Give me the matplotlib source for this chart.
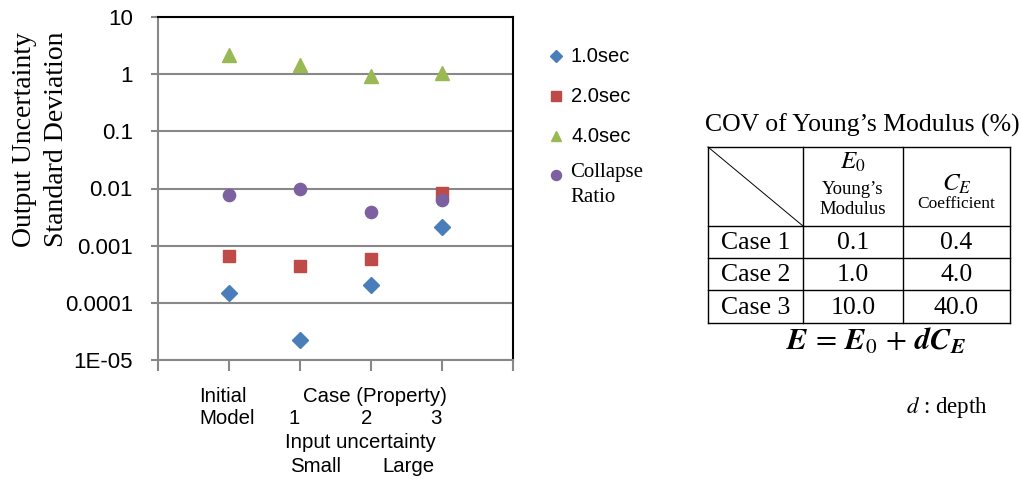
import matplotlib
matplotlib.use("Agg")
import matplotlib.pyplot as plt
import numpy as np

# ---- data ----
categories = [1, 2, 3, 4]
sec1 = [1.5e-4, 2.2e-5, 2.05e-4, 2.1e-3]
sec2 = [6.6e-4, 4.4e-4, 5.8e-4, 8.3e-3]
sec4 = [2.2, 1.45, 0.93, 1.05]
collapse = [7.7e-3, 9.8e-3, 3.9e-3, 6.3e-3]
series_names = ["1.0sec", "2.0sec", "4.0sec", "Collapse\nRatio"]
ytick_vals = [1e-5, 1e-4, 1e-3, 1e-2, 1e-1, 1, 10]
ytick_labels = ["1E-05", "0.0001", "0.001", "0.01", "0.1", "1", "10"]

table_title = "COV of Young\u2019s Modulus (%)"
row_labels = ["Case 1", "Case 2", "Case 3"]
e0_vals = ["0.1", "1.0", "10.0"]
ce_vals = ["0.4", "4.0", "40.0"]

W, H = 1022, 480
fig = plt.figure(figsize=(W / 100, H / 100), dpi=100)
ax = fig.add_axes([158 / W, 1 - 360 / H, (513 - 158) / W, (360 - 17) / H])

colors = ["#4A7EBB", "#BE4B48", "#98B954", "#7D60A0"]
markers = ["D", "s", "^", "o"]
sizes = [8.0, 8.5, 9.5, 8.8]
for vals, c, m, ms in zip([sec1, sec2, sec4, collapse], colors, markers, sizes):
    ax.plot(categories, vals, linestyle="none", marker=m, color=c,
            markersize=ms, markeredgecolor=c, zorder=3, clip_on=False)

ax.set_yscale("log")
ax.set_ylim(1e-5, 10)
ax.set_xlim(0, 5)
ax.set_yticks(ytick_vals)
ax.set_yticklabels(ytick_labels, fontfamily="Liberation Sans", fontsize=16)
ax.yaxis.set_minor_locator(matplotlib.ticker.NullLocator())
ax.set_xticks([0, 1, 2, 3, 4, 5])
ax.set_xticklabels([])
ax.tick_params(axis="x", direction="out", length=8, width=1.5, color="#888888")
ax.tick_params(axis="y", direction="out", length=5, width=1.5, color="#888888", pad=13)
ax.grid(axis="y", color="#888888", linewidth=1.5, zorder=0)
ax.set_axisbelow(True)
ax.spines["left"].set_color("#888888")
ax.spines["left"].set_linewidth(1.5)
ax.spines["bottom"].set_color("#888888")
ax.spines["bottom"].set_linewidth(1.5)
ax.spines["top"].set_color("black")
ax.spines["top"].set_linewidth(1.5)
ax.spines["right"].set_color("black")
ax.spines["right"].set_linewidth(1.5)

# overlay axes in pixel coordinates for annotations
ov = fig.add_axes([0, 0, 1, 1], facecolor="none")
ov.set_xlim(0, W)
ov.set_ylim(H, 0)
ov.axis("off")

serif = "Liberation Serif"
sans = "Liberation Sans"

# y label
ov.text(25, 140, "Output Uncertainty", rotation=90, ha="center", va="center",
        fontfamily=serif, fontsize=20)
ov.text(57, 139, "Standard Deviation", rotation=90, ha="center", va="center",
        fontfamily=serif, fontsize=20)

# x annotations
fs = 14.7
ov.text(199, 396, "Initial", ha="left", va="center", fontfamily=sans, fontsize=fs)
ov.text(199, 419, "Model", ha="left", va="center", fontfamily=sans, fontsize=fs)
ov.text(375, 396, "Case (Property)", ha="center", va="center", fontfamily=sans, fontsize=fs)
for xp, lab in zip([294, 367, 436], ["1", "2", "3"]):
    ov.text(xp, 419, lab, ha="center", va="center", fontfamily=sans, fontsize=fs)
ov.text(360, 443, "Input uncertainty", ha="center", va="center", fontfamily=sans, fontsize=fs)
ov.text(316, 466, "Small", ha="center", va="center", fontfamily=sans, fontsize=fs)
ov.text(408, 466, "Large", ha="center", va="center", fontfamily=sans, fontsize=fs)

# legend
leg_y = [56, 96, 136, 175]
for yy, c, m, ms, name in zip(leg_y, colors, markers, sizes, series_names):
    ov.plot([556], [yy], marker=m, color=c, markersize=ms * 0.82, linestyle="none")
    if "\n" in name:
        l1, l2 = name.split("\n")
        ov.text(570, 173, l1, ha="left", va="center", fontfamily=serif, fontsize=15)
        ov.text(570, 197, l2, ha="left", va="center", fontfamily=serif, fontsize=15)
    else:
        ov.text(571, yy, name, ha="left", va="center", fontfamily=sans, fontsize=14.5)

# table
ov.text(862, 125, table_title, ha="center", va="center", fontfamily=serif, fontsize=18.5)
lw = 1.0
x0, x1, x2, x3 = 708, 803, 903, 1010
ys = [147, 226, 258, 290, 323]
for y in ys:
    ov.plot([x0, x3], [y, y], color="black", lw=lw)
for x in [x0, x1, x2, x3]:
    ov.plot([x, x], [ys[0], ys[-1]], color="black", lw=lw)
ov.plot([x0, x1], [ys[0], ys[1]], color="black", lw=0.7)

cx1, cx2, cx3 = (x0 + x1) / 2, (x1 + x2) / 2, (x2 + x3) / 2
ov.text(cx2, 162, r"$\mathit{E}_{\mathit{0}}$", ha="center", va="center", fontsize=18,
        math_fontfamily="stix")
ov.text(cx2, 189, "Young\u2019s", ha="center", va="center", fontfamily=serif, fontsize=13.5)
ov.text(cx2, 210, "Modulus", ha="center", va="center", fontfamily=serif, fontsize=13.5)
ov.text(cx3, 184, r"$\mathit{C}_{\mathit{E}}$", ha="center", va="center", fontsize=18,
        math_fontfamily="stix")
ov.text(cx3, 204, "Coefficient", ha="center", va="center", fontfamily=serif, fontsize=12.5)
for i, (r, a, b) in enumerate(zip(row_labels, e0_vals, ce_vals)):
    yc = (ys[i + 1] + ys[i + 2]) / 2 + 1
    ov.text(cx1, yc, r, ha="center", va="center", fontfamily=serif, fontsize=18.5)
    ov.text(cx2, yc, a, ha="center", va="center", fontfamily=serif, fontsize=18.5)
    ov.text(cx3, yc, b, ha="center", va="center", fontfamily=serif, fontsize=18.5)

ov.text(876, 341,
        r"$\mathbfit{E}\,=\,\mathbfit{E}_{0}\,+\,\mathbfit{d}\mathbfit{C}_{\mathbfit{E}}$",
        ha="center", va="center", fontsize=22, math_fontfamily="stix")
ov.text(947, 408, r"$\mathit{d}$ : depth", ha="center", va="center", fontfamily=serif,
        fontsize=16.5, math_fontfamily="stix")

fig.savefig("out.png", dpi=100)
